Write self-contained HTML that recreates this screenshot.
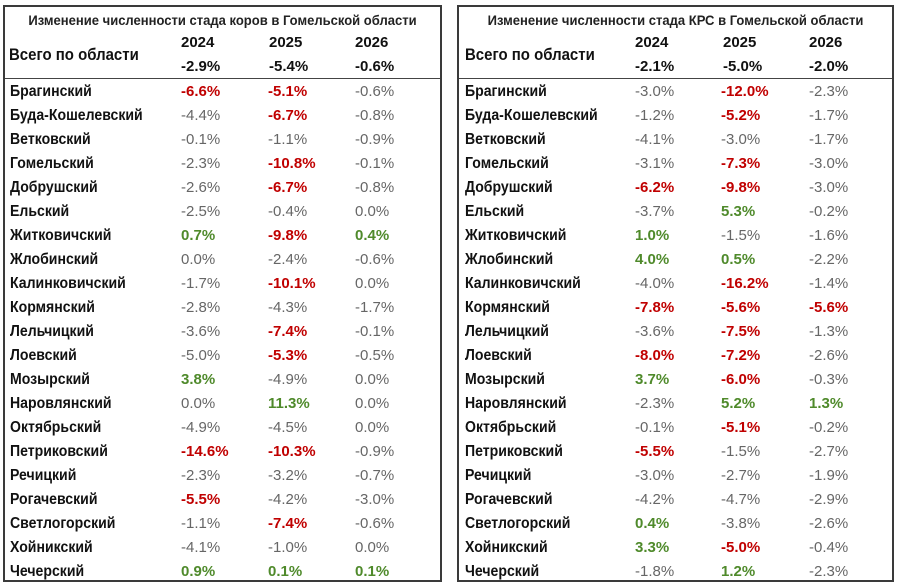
<!DOCTYPE html>
<html><head><meta charset="utf-8"><style>
body{margin:0;width:900px;height:586px;background:#fff;position:relative;overflow:hidden;font-family:"Liberation Sans Narrow","Liberation Sans","DejaVu Sans Condensed",sans-serif}
.t{position:absolute;top:5px;height:577px;border:2px solid #3a3a3a;box-sizing:border-box}
.l{position:absolute;white-space:nowrap;height:24px;line-height:24px}
.ttl{font-weight:bold;font-size:14px;color:#222;width:100%;text-align:center;top:1px;left:0;transform:scaleX(0.93)}
.hl{position:absolute;left:0;right:0;top:71px;border-top:1.5px solid #444}
.nm{font-weight:bold;font-size:16px;color:#111;transform:scaleX(0.88);transform-origin:left center}
.v{font-size:15px;color:#666}
.r{color:#c00000;font-weight:bold}
.g{color:#4f8a2b;font-weight:bold}
.h{font-weight:bold;font-size:15px;color:#111}
</style></head><body>

<div class="t" style="left:3px;width:439px">
<div class="l ttl">Изменение численности стада коров в Гомельской области</div>
<div class="l nm" style="left:4px;top:36px;font-size:17px">Всего по области</div>
<div class="l h" style="left:176px;top:24px">2024</div><div class="l h" style="left:264px;top:24px">2025</div><div class="l h" style="left:350px;top:24px">2026</div>
<div class="l h" style="left:176px;top:48px">-2.9%</div><div class="l h" style="left:264px;top:48px">-5.4%</div><div class="l h" style="left:350px;top:48px">-0.6%</div>
<div class="hl"></div>

<div class="l nm" style="left:5px;top:73px">Брагинский</div><div class="l v r" style="left:176px;top:73px">-6.6%</div><div class="l v r" style="left:263px;top:73px">-5.1%</div><div class="l v" style="left:350px;top:73px">-0.6%</div>
<div class="l nm" style="left:5px;top:97px">Буда-Кошелевский</div><div class="l v" style="left:176px;top:97px">-4.4%</div><div class="l v r" style="left:263px;top:97px">-6.7%</div><div class="l v" style="left:350px;top:97px">-0.8%</div>
<div class="l nm" style="left:5px;top:121px">Ветковский</div><div class="l v" style="left:176px;top:121px">-0.1%</div><div class="l v" style="left:263px;top:121px">-1.1%</div><div class="l v" style="left:350px;top:121px">-0.9%</div>
<div class="l nm" style="left:5px;top:145px">Гомельский</div><div class="l v" style="left:176px;top:145px">-2.3%</div><div class="l v r" style="left:263px;top:145px">-10.8%</div><div class="l v" style="left:350px;top:145px">-0.1%</div>
<div class="l nm" style="left:5px;top:169px">Добрушский</div><div class="l v" style="left:176px;top:169px">-2.6%</div><div class="l v r" style="left:263px;top:169px">-6.7%</div><div class="l v" style="left:350px;top:169px">-0.8%</div>
<div class="l nm" style="left:5px;top:193px">Ельский</div><div class="l v" style="left:176px;top:193px">-2.5%</div><div class="l v" style="left:263px;top:193px">-0.4%</div><div class="l v" style="left:350px;top:193px">0.0%</div>
<div class="l nm" style="left:5px;top:217px">Житковичский</div><div class="l v g" style="left:176px;top:217px">0.7%</div><div class="l v r" style="left:263px;top:217px">-9.8%</div><div class="l v g" style="left:350px;top:217px">0.4%</div>
<div class="l nm" style="left:5px;top:241px">Жлобинский</div><div class="l v" style="left:176px;top:241px">0.0%</div><div class="l v" style="left:263px;top:241px">-2.4%</div><div class="l v" style="left:350px;top:241px">-0.6%</div>
<div class="l nm" style="left:5px;top:265px">Калинковичский</div><div class="l v" style="left:176px;top:265px">-1.7%</div><div class="l v r" style="left:263px;top:265px">-10.1%</div><div class="l v" style="left:350px;top:265px">0.0%</div>
<div class="l nm" style="left:5px;top:289px">Кормянский</div><div class="l v" style="left:176px;top:289px">-2.8%</div><div class="l v" style="left:263px;top:289px">-4.3%</div><div class="l v" style="left:350px;top:289px">-1.7%</div>
<div class="l nm" style="left:5px;top:313px">Лельчицкий</div><div class="l v" style="left:176px;top:313px">-3.6%</div><div class="l v r" style="left:263px;top:313px">-7.4%</div><div class="l v" style="left:350px;top:313px">-0.1%</div>
<div class="l nm" style="left:5px;top:337px">Лоевский</div><div class="l v" style="left:176px;top:337px">-5.0%</div><div class="l v r" style="left:263px;top:337px">-5.3%</div><div class="l v" style="left:350px;top:337px">-0.5%</div>
<div class="l nm" style="left:5px;top:361px">Мозырский</div><div class="l v g" style="left:176px;top:361px">3.8%</div><div class="l v" style="left:263px;top:361px">-4.9%</div><div class="l v" style="left:350px;top:361px">0.0%</div>
<div class="l nm" style="left:5px;top:385px">Наровлянский</div><div class="l v" style="left:176px;top:385px">0.0%</div><div class="l v g" style="left:263px;top:385px">11.3%</div><div class="l v" style="left:350px;top:385px">0.0%</div>
<div class="l nm" style="left:5px;top:409px">Октябрьский</div><div class="l v" style="left:176px;top:409px">-4.9%</div><div class="l v" style="left:263px;top:409px">-4.5%</div><div class="l v" style="left:350px;top:409px">0.0%</div>
<div class="l nm" style="left:5px;top:433px">Петриковский</div><div class="l v r" style="left:176px;top:433px">-14.6%</div><div class="l v r" style="left:263px;top:433px">-10.3%</div><div class="l v" style="left:350px;top:433px">-0.9%</div>
<div class="l nm" style="left:5px;top:457px">Речицкий</div><div class="l v" style="left:176px;top:457px">-2.3%</div><div class="l v" style="left:263px;top:457px">-3.2%</div><div class="l v" style="left:350px;top:457px">-0.7%</div>
<div class="l nm" style="left:5px;top:481px">Рогачевский</div><div class="l v r" style="left:176px;top:481px">-5.5%</div><div class="l v" style="left:263px;top:481px">-4.2%</div><div class="l v" style="left:350px;top:481px">-3.0%</div>
<div class="l nm" style="left:5px;top:505px">Светлогорский</div><div class="l v" style="left:176px;top:505px">-1.1%</div><div class="l v r" style="left:263px;top:505px">-7.4%</div><div class="l v" style="left:350px;top:505px">-0.6%</div>
<div class="l nm" style="left:5px;top:529px">Хойникский</div><div class="l v" style="left:176px;top:529px">-4.1%</div><div class="l v" style="left:263px;top:529px">-1.0%</div><div class="l v" style="left:350px;top:529px">0.0%</div>
<div class="l nm" style="left:5px;top:553px">Чечерский</div><div class="l v g" style="left:176px;top:553px">0.9%</div><div class="l v g" style="left:263px;top:553px">0.1%</div><div class="l v g" style="left:350px;top:553px">0.1%</div>
</div>

<div class="t" style="left:457px;width:437px">
<div class="l ttl">Изменение численности стада КРС в Гомельской области</div>
<div class="l nm" style="left:6px;top:36px;font-size:17px">Всего по области</div>
<div class="l h" style="left:176px;top:24px">2024</div><div class="l h" style="left:264px;top:24px">2025</div><div class="l h" style="left:350px;top:24px">2026</div>
<div class="l h" style="left:176px;top:48px">-2.1%</div><div class="l h" style="left:264px;top:48px">-5.0%</div><div class="l h" style="left:350px;top:48px">-2.0%</div>
<div class="hl"></div>

<div class="l nm" style="left:6px;top:73px">Брагинский</div><div class="l v" style="left:176px;top:73px">-3.0%</div><div class="l v r" style="left:262px;top:73px">-12.0%</div><div class="l v" style="left:350px;top:73px">-2.3%</div>
<div class="l nm" style="left:6px;top:97px">Буда-Кошелевский</div><div class="l v" style="left:176px;top:97px">-1.2%</div><div class="l v r" style="left:262px;top:97px">-5.2%</div><div class="l v" style="left:350px;top:97px">-1.7%</div>
<div class="l nm" style="left:6px;top:121px">Ветковский</div><div class="l v" style="left:176px;top:121px">-4.1%</div><div class="l v" style="left:262px;top:121px">-3.0%</div><div class="l v" style="left:350px;top:121px">-1.7%</div>
<div class="l nm" style="left:6px;top:145px">Гомельский</div><div class="l v" style="left:176px;top:145px">-3.1%</div><div class="l v r" style="left:262px;top:145px">-7.3%</div><div class="l v" style="left:350px;top:145px">-3.0%</div>
<div class="l nm" style="left:6px;top:169px">Добрушский</div><div class="l v r" style="left:176px;top:169px">-6.2%</div><div class="l v r" style="left:262px;top:169px">-9.8%</div><div class="l v" style="left:350px;top:169px">-3.0%</div>
<div class="l nm" style="left:6px;top:193px">Ельский</div><div class="l v" style="left:176px;top:193px">-3.7%</div><div class="l v g" style="left:262px;top:193px">5.3%</div><div class="l v" style="left:350px;top:193px">-0.2%</div>
<div class="l nm" style="left:6px;top:217px">Житковичский</div><div class="l v g" style="left:176px;top:217px">1.0%</div><div class="l v" style="left:262px;top:217px">-1.5%</div><div class="l v" style="left:350px;top:217px">-1.6%</div>
<div class="l nm" style="left:6px;top:241px">Жлобинский</div><div class="l v g" style="left:176px;top:241px">4.0%</div><div class="l v g" style="left:262px;top:241px">0.5%</div><div class="l v" style="left:350px;top:241px">-2.2%</div>
<div class="l nm" style="left:6px;top:265px">Калинковичский</div><div class="l v" style="left:176px;top:265px">-4.0%</div><div class="l v r" style="left:262px;top:265px">-16.2%</div><div class="l v" style="left:350px;top:265px">-1.4%</div>
<div class="l nm" style="left:6px;top:289px">Кормянский</div><div class="l v r" style="left:176px;top:289px">-7.8%</div><div class="l v r" style="left:262px;top:289px">-5.6%</div><div class="l v r" style="left:350px;top:289px">-5.6%</div>
<div class="l nm" style="left:6px;top:313px">Лельчицкий</div><div class="l v" style="left:176px;top:313px">-3.6%</div><div class="l v r" style="left:262px;top:313px">-7.5%</div><div class="l v" style="left:350px;top:313px">-1.3%</div>
<div class="l nm" style="left:6px;top:337px">Лоевский</div><div class="l v r" style="left:176px;top:337px">-8.0%</div><div class="l v r" style="left:262px;top:337px">-7.2%</div><div class="l v" style="left:350px;top:337px">-2.6%</div>
<div class="l nm" style="left:6px;top:361px">Мозырский</div><div class="l v g" style="left:176px;top:361px">3.7%</div><div class="l v r" style="left:262px;top:361px">-6.0%</div><div class="l v" style="left:350px;top:361px">-0.3%</div>
<div class="l nm" style="left:6px;top:385px">Наровлянский</div><div class="l v" style="left:176px;top:385px">-2.3%</div><div class="l v g" style="left:262px;top:385px">5.2%</div><div class="l v g" style="left:350px;top:385px">1.3%</div>
<div class="l nm" style="left:6px;top:409px">Октябрьский</div><div class="l v" style="left:176px;top:409px">-0.1%</div><div class="l v r" style="left:262px;top:409px">-5.1%</div><div class="l v" style="left:350px;top:409px">-0.2%</div>
<div class="l nm" style="left:6px;top:433px">Петриковский</div><div class="l v r" style="left:176px;top:433px">-5.5%</div><div class="l v" style="left:262px;top:433px">-1.5%</div><div class="l v" style="left:350px;top:433px">-2.7%</div>
<div class="l nm" style="left:6px;top:457px">Речицкий</div><div class="l v" style="left:176px;top:457px">-3.0%</div><div class="l v" style="left:262px;top:457px">-2.7%</div><div class="l v" style="left:350px;top:457px">-1.9%</div>
<div class="l nm" style="left:6px;top:481px">Рогачевский</div><div class="l v" style="left:176px;top:481px">-4.2%</div><div class="l v" style="left:262px;top:481px">-4.7%</div><div class="l v" style="left:350px;top:481px">-2.9%</div>
<div class="l nm" style="left:6px;top:505px">Светлогорский</div><div class="l v g" style="left:176px;top:505px">0.4%</div><div class="l v" style="left:262px;top:505px">-3.8%</div><div class="l v" style="left:350px;top:505px">-2.6%</div>
<div class="l nm" style="left:6px;top:529px">Хойникский</div><div class="l v g" style="left:176px;top:529px">3.3%</div><div class="l v r" style="left:262px;top:529px">-5.0%</div><div class="l v" style="left:350px;top:529px">-0.4%</div>
<div class="l nm" style="left:6px;top:553px">Чечерский</div><div class="l v" style="left:176px;top:553px">-1.8%</div><div class="l v g" style="left:262px;top:553px">1.2%</div><div class="l v" style="left:350px;top:553px">-2.3%</div>
</div>
</body></html>
